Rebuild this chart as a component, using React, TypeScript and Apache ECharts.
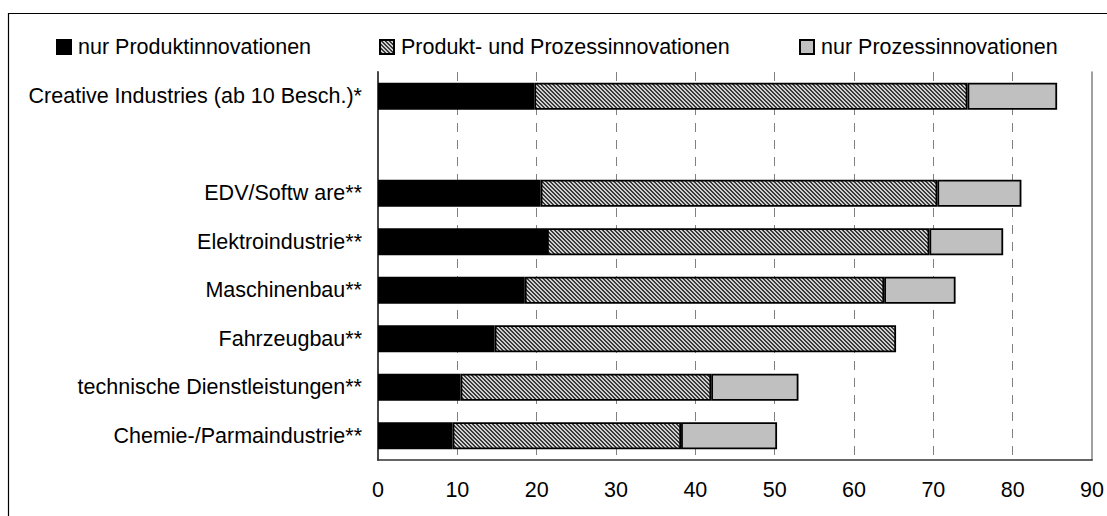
import React, { useEffect, useRef } from "react";
import * as echarts from "echarts";

const categories = [
  "Creative Industries (ab 10 Besch.)*",
  "",
  "EDV/Softw are**",
  "Elektroindustrie**",
  "Maschinenbau**",
  "Fahrzeugbau**",
  "technische Dienstleistungen**",
  "Chemie-/Parmaindustrie**",
];
const seriesNames = [
  "nur Produktinnovationen",
  "Produkt- und Prozessinnovationen",
  "nur Prozessinnovationen",
];
const nurProdukt = [19.7, null, 20.5, 21.3, 18.5, 14.7, 10.4, 9.4];
const produktUndProzess = [54.6, null, 50.0, 48.2, 45.3, 50.6, 31.6, 28.8];
const nurProzess = [11.3, null, 10.6, 9.3, 9.0, null, 11.0, 12.1];
const xMin = 0;
const xMax = 90;
const xInterval = 10;

const FONT = "'Liberation Sans', Arial, sans-serif";

function makeHatch(): string {
  const c = document.createElement("canvas");
  c.width = 4;
  c.height = 4;
  const ctx = c.getContext("2d")!;
  ctx.fillStyle = "#cfcfcf";
  ctx.fillRect(0, 0, 4, 4);
  ctx.fillStyle = "#3a3a3a";
  for (let y = 0; y < 4; y++) {
    for (let x = 0; x < 4; x++) {
      if ((((x - y) % 4) + 4) % 4 < 2) ctx.fillRect(x, y, 1, 1);
    }
  }
  return c.toDataURL();
}

export default function App() {
  const ref = useRef<HTMLDivElement>(null);
  useEffect(() => {
    if (!ref.current) return;
    const chart = echarts.init(ref.current, null, { renderer: "svg" });
    const hatch = {
      image: makeHatch(),
      repeat: "repeat",
      imageWidth: 4,
      imageHeight: 4,
    };
    const fills = ["#000000", hatch, "#c0c0c0"];
    const datas = [nurProdukt, produktUndProzess, nurProzess];
    const legendLeft = [56, 379, 799];
    chart.setOption({
      animation: false,
      backgroundColor: "#ffffff",
      textStyle: { fontFamily: FONT },
      grid: { left: 378, right: 11, top: 72, bottom: 56, containLabel: false },
      legend: seriesNames.map((n, i) => ({
        data: [n],
        left: legendLeft[i],
        top: 36,
        padding: 0,
        itemWidth: 14,
        itemHeight: 14,
        icon: "rect",
        selectedMode: false,
        textStyle: {
          fontSize: 21.5,
          color: "#000",
          fontFamily: FONT,
          padding: [0, 0, 0, 2],
        },
      })),
      xAxis: {
        type: "value",
        min: xMin,
        max: xMax,
        interval: xInterval,
        axisLine: { show: true, lineStyle: { color: "#333", width: 1.5 } },
        axisTick: { show: false },
        axisLabel: { fontSize: 21.5, color: "#000", margin: 19, fontFamily: FONT },
        splitLine: {
          show: true,
          showMinLine: false,
          showMaxLine: false,
          lineStyle: { color: "#808080", width: 1, type: [9, 8] },
        },
      },
      yAxis: [
        {
          type: "category",
          inverse: true,
          data: categories,
          axisLine: { show: true, lineStyle: { color: "#333", width: 1.8 } },
          axisTick: { show: false },
          axisLabel: { fontSize: 21.5, color: "#000", margin: 16, fontFamily: FONT },
          splitLine: { show: false },
        },
        {
          type: "category",
          inverse: true,
          position: "right",
          data: categories,
          axisLine: { show: true, lineStyle: { color: "#808080", width: 1.5 } },
          axisTick: { show: false },
          axisLabel: { show: false },
          splitLine: { show: false },
        },
      ],
      series: seriesNames.map((n, i) => ({
        name: n,
        type: "bar",
        stack: "total",
        yAxisIndex: 0,
        barWidth: 27,
        data: datas[i],
        itemStyle: { color: fills[i], borderColor: "#000", borderWidth: 1.8 },
        emphasis: { disabled: true },
      })),
      graphic: [
        {
          type: "rect",
          shape: { x: 8.5, y: 13.5, width: 1110, height: 600 },
          style: { fill: "none", stroke: "#000", lineWidth: 1.2 },
          silent: true,
          z: -1,
        },
      ],
    });
    return () => chart.dispose();
  }, []);
  return (
    <div
      ref={ref}
      style={{ position: "fixed", left: 0, top: 0, width: 1107, height: 516, background: "#fff" }}
    />
  );
}
